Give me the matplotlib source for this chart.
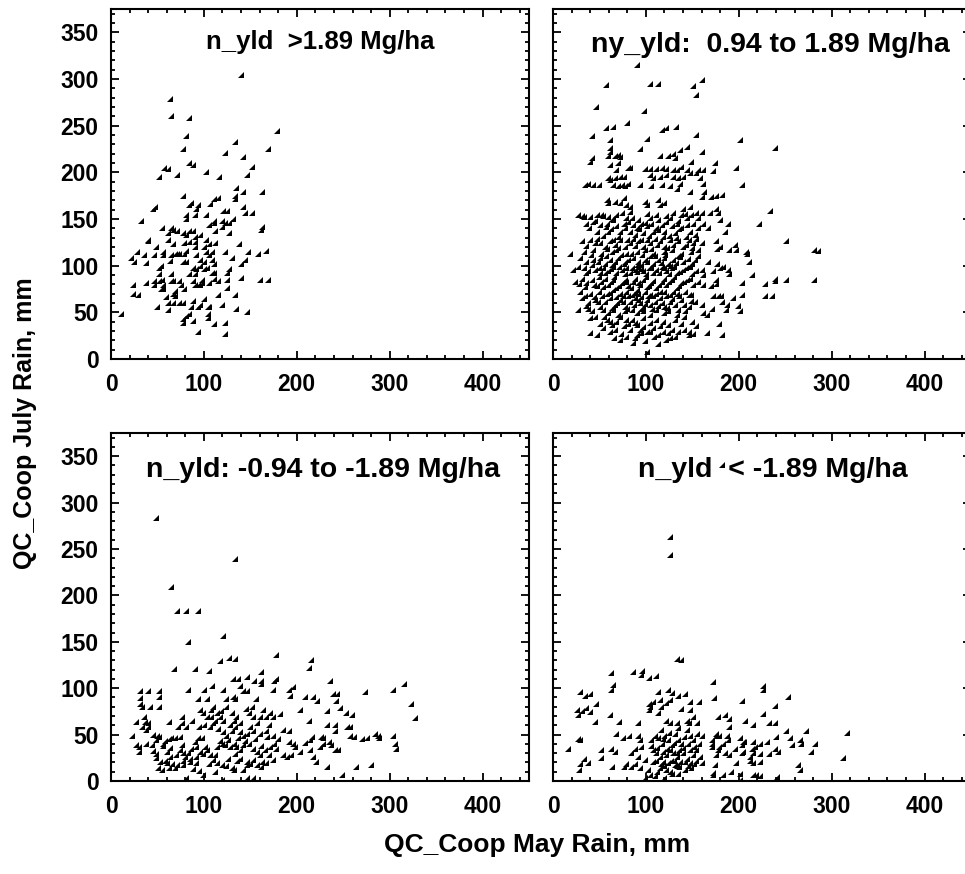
import matplotlib
matplotlib.use('Agg')
import matplotlib.pyplot as plt
from matplotlib.ticker import MultipleLocator

plt.rcParams['font.family'] = ['Liberation Sans', 'DejaVu Sans']
plt.rcParams['font.weight'] = 'bold'

# ---------------- data: (May rain, July rain) in mm ----------------
titles = ["n_yld  >1.89 Mg/ha", "ny_yld:  0.94 to 1.89 Mg/ha",
          "n_yld: -0.94 to -1.89 Mg/ha", "n_yld  < -1.89 Mg/ha"]
x_label = "QC_Coop May Rain, mm"
y_label = "QC_Coop July Rain, mm"
x_ticks = [0, 100, 200, 300, 400]
y_ticks = [0, 50, 100, 150, 200, 250, 300, 350]

pts_high = [(140,304),(63,279),(65,260),(84,258),(81,239),(179,244),(133,233),(77,225),(169,225),(123,221),(142,216),(84,210),(88,208),(57,205),(61,204),(152,206),(52,195),(71,197),(102,200),(116,195),(146,197),(135,183),(142,179),(163,179),(77,175),(133,175),(133,171),(115,172),(111,171),(107,166),(86,167),(84,165),(94,165),(92,161),(45,161),(47,163),(121,159),(125,159),(142,163),(144,156),(152,156),(81,154),(81,150),(90,154),(102,154),(32,148),(111,148),(119,148),(131,150),(127,146),(123,146),(106,144),(111,146),(55,140),(65,140),(67,138),(61,135),(71,137),(77,135),(84,137),(88,137),(81,133),(90,131),(96,133),(112,137),(119,141),(127,135),(161,138),(163,141),(40,127),(40,126),(61,127),(67,123),(84,125),(90,125),(79,124),(102,127),(106,123),(112,124),(138,123),(48,120),(90,120),(100,120),(28,115),(36,111),(46,111),(56,115),(56,111),(69,112),(71,112),(73,112),(79,112),(81,116),(65,111),(63,105),(102,115),(106,111),(109,115),(92,111),(123,115),(148,115),(158,112),(167,116),(21,108),(25,104),(38,103),(77,104),(81,104),(96,106),(96,100),(100,104),(109,106),(111,102),(130,108),(144,106),(140,102),(54,100),(52,98),(88,98),(92,96),(100,96),(103,98),(127,96),(125,92),(52,91),(84,91),(90,91),(109,92),(111,92),(65,91),(111,86),(140,87),(160,85),(169,85),(24,79),(24,70),(29,69),(38,81),(46,84),(46,79),(52,84),(55,85),(56,79),(56,75),(54,75),(65,84),(67,84),(73,84),(75,79),(69,73),(67,70),(69,67),(79,75),(88,84),(90,79),(94,79),(96,79),(98,85),(98,81),(106,81),(115,84),(125,85),(125,76),(59,66),(77,60),(73,60),(67,60),(61,60),(61,52),(50,56),(88,62),(86,56),(96,58),(94,56),(100,64),(104,56),(106,56),(115,69),(119,58),(133,69),(135,54),(146,50),(84,48),(81,46),(77,43),(77,39),(88,41),(104,48),(104,44),(111,37),(123,39),(94,29),(123,27),(11,48)]

pts_pos = [(90,315),(57,294),(104,295),(113,295),(151,292),(154,283),(46,270),(98,266),(80,253),(57,247),(65,249),(42,239),(61,235),(101,236),(117,245),(122,248),(132,249),(154,240),(61,226),(61,222),(94,225),(42,215),(40,211),(59,217),(67,217),(70,219),(72,216),(115,217),(124,217),(129,220),(137,224),(144,227),(131,215),(61,208),(70,210),(68,203),(81,205),(83,205),(99,204),(104,204),(111,204),(117,205),(122,204),(129,203),(133,203),(138,206),(144,203),(154,199),(149,211),(34,186),(38,188),(43,186),(50,186),(59,194),(61,192),(67,194),(72,195),(76,195),(65,186),(70,185),(74,186),(77,185),(81,188),(104,197),(108,194),(115,195),(122,197),(129,195),(135,194),(137,188),(140,195),(147,199),(94,186),(106,185),(117,186),(126,185),(133,182),(147,179),(58,170),(59,167),(67,168),(72,167),(76,172),(79,165),(83,163),(99,168),(101,165),(113,170),(115,165),(120,167),(140,161),(147,163),
(27,154),(31,153),(33,152),(40,152),(47,154),(52,154),(54,153),(59,152),(68,154),(74,156),(83,157),(85,151),(101,155),(104,151),(111,154),(122,153),(129,156),(138,154),(144,151),(149,154),(154,156),(156,151),
(36,145),(43,147),(51,144),(58,145),(65,149),(68,142),(76,145),(81,147),(86,144),(90,140),(95,145),(101,142),(106,145),(111,140),(117,144),(122,147),(128,142),(133,145),(138,140),(144,144),(151,145),(156,140),(47,136),(59,136),(72,136),(83,136),(97,135),(108,136),(120,136),(131,135),(147,136),
(31,126),(40,128),(47,129),(51,124),(56,120),(61,126),(67,122),(72,128),(77,120),(83,124),(86,129),(92,126),(97,120),(101,128),(104,124),(110,129),(115,126),(120,120),(126,128),(129,122),(135,126),(140,120),(146,128),(151,124),(154,129),(33,115),(43,117),(52,113),(63,115),(68,117),(79,113),(90,115),(99,117),(108,113),(119,115),(128,117),(138,113),(149,115),(156,117),(18,113),
(29,108),(36,104),(43,106),(51,108),(56,102),(61,106),(67,104),(70,108),(76,102),(81,106),(86,108),(92,104),(95,101),(99,106),(104,110),(108,102),(113,106),(119,108),(124,102),(129,106),(135,110),(140,104),(147,101),(153,106),(156,110),(22,95),(33,97),(38,94),(45,95),(51,92),(54,97),(59,94),(65,99),(68,92),(74,95),(79,97),(83,92),(88,95),(92,99),(97,94),(103,97),(108,92),(111,95),(117,99),(122,94),(128,97),(133,92),(140,95),(147,99),(154,94),
(24,83),(31,86),(36,81),(42,85),(47,78),(52,83),(56,86),(59,79),(65,85),(68,76),(74,81),(77,85),(81,78),(86,83),(90,74),(94,79),(97,85),(103,78),(106,81),(111,76),(117,83),(122,79),(128,85),(133,76),(138,81),(144,85),(151,79),(156,83),(29,72),(40,70),(49,72),(58,70),(65,74),(72,70),(79,72),(85,69),(92,70),(99,72),(104,69),(111,70),(119,72),(126,69),(133,70),(142,72),(149,69),
(31,65),(38,60),(45,63),(51,56),(56,61),(61,65),(67,58),(72,63),(77,56),(83,61),(88,65),(92,63),(94,60),(97,56),(101,63),(104,58),(110,61),(115,65),(120,56),(126,61),(131,58),(138,63),(146,56),(153,61),(27,52),(38,54),(59,49),(65,52),(70,47),(77,51),(85,52),(90,49),(97,51),(104,47),(111,52),(119,49),(124,51),(133,47),(142,51),
(40,44),(51,38),(58,42),(63,36),(68,40),(76,35),(81,38),(85,42),(90,36),(94,31),(101,29),(108,33),(115,35),(124,36),(128,31),(138,38),(146,29),(154,35),(40,28),(47,26),(61,29),(79,24),(90,26),(95,28),(104,29),(113,26),(124,28),(135,29),(146,26),(72,20),(88,22),(122,20),(131,24),(101,8),(86,17),
(160,299),(201,235),(239,226),(160,222),(174,210),(172,201),(197,205),(156,202),(161,203),(158,194),(161,188),(204,186),(163,179),(160,174),(170,174),(175,175),(182,176),(160,156),(169,156),(176,161),(178,156),(162,145),(167,140),(180,149),(188,145),(185,136),(234,159),(222,145),(160,124),(175,126),(177,118),(180,120),(190,117),(196,122),(197,117),(208,115),(209,112),(211,104),(251,126),(281,117),(285,116),(167,104),(177,102),(180,97),(183,99),(188,95),(190,91),(214,90),(160,95),(161,90),(172,94),(175,85),(162,79),(170,78),(176,80),(203,81),(228,80),(239,86),(239,84),(251,85),(281,85),(172,67),(178,67),(181,68),(194,65),(203,69),(228,67),(236,67),(182,61),(187,58),(186,53),(199,57),(201,51),(160,58),(162,49),(166,47),(171,54),(179,38),(166,28),(182,26),
(45,148),(57,141),(63,150),(79,151),(92,149),(99,146),(113,149),(126,151),(135,148),(142,155),
(39,140),(54,132),(62,139),(70,131),(78,140),(88,133),(93,139),(103,132),(113,138),(125,132),(136,139),(143,131),(153,133),
(35,121),(45,124),(58,118),(65,128),(70,119),(80,127),(88,121),(95,128),(106,118),(112,122),(118,131),(123,119),(132,130),(143,122),(150,119),
(41,111),(48,104),(57,110),(64,101),(73,111),(78,104),(84,112),(90,101),(96,111),(101,104),(110,110),(116,103),(121,111),(126,100),(132,103),(137,109),(145,107),(150,102),
(27,99),(36,92),(42,101),(49,98),(56,92),(62,96),(71,99),(77,91),(85,98),(90,93),(95,96),(100,91),(106,98),(114,92),(120,97),(125,91),(130,99),(137,93),(143,98),(150,91),
(28,80),(34,77),(44,79),(50,88),(54,77),(62,82),(66,88),(71,78),(79,82),(84,76),(88,86),(92,81),(100,88),(101,77),(108,84),(114,79),(120,86),(125,82),(130,88),(136,78),(141,82),(148,86),
(34,68),(44,66),(53,68),(61,71),(68,66),(75,68),(81,67),(88,71),(95,66),(102,67),(108,67),(115,72),(122,67),(129,72),(136,67),(146,69),
(35,57),(42,51),(48,61),(54,53),(63,55),(69,60),(75,61),(80,54),(87,58),(95,54),(99,59),(107,54),(113,57),(117,60),(123,55),(128,64),(135,53),(141,58),(149,62),
(45,45),(55,45),(61,40),(72,45),(79,42),(88,39),(97,44),(104,39),(111,42),(118,40),(131,42),(141,45),(150,40),
(54,33),(67,31),(73,27),(83,31),(97,34),(109,24),(118,29),(126,22),(141,31),(151,27),(66,22),(99,19),(113,16)]

pts_neg = [(48,283),(133,239),(65,209),(71,183),(81,183),(94,183),(83,150),(121,156),(117,129),(127,133),(133,131),(178,136),(68,121),(90,121),(106,119),(162,117),(131,110),(137,110),(146,112),(154,108),(162,108),(176,108),(178,110),(31,97),(40,97),(52,97),(31,89),(31,83),(33,80),(42,80),(52,80),(52,90),(83,98),(100,98),(109,102),(94,88),(103,88),(121,98),(124,88),(131,91),(133,88),(139,102),(142,97),(146,97),(156,88),(162,105),(174,98),
(27,64),(35,69),(37,64),(40,62),(38,55),(40,58),(23,48),(27,39),(30,37),(30,31),(38,40),(44,39),(49,48),(52,47),(48,44),(56,40),(56,38),(62,45),(65,46),(69,46),(74,47),(76,39),(74,33),(78,30),(83,30),(48,29),(48,25),(53,21),(60,31),(63,26),(60,19),(51,14),(55,12),(62,14),(69,14),(71,17),(78,17),(85,21),(92,19),(80,26),(85,24),(92,26),(76,69),(76,62),(81,58),(94,46),(95,58),
(96,76),(99,73),(103,69),(108,76),(110,80),(108,69),(112,65),(110,62),(107,58),(114,73),(117,69),(121,65),(124,80),(130,73),(132,65),(135,69),(139,62),(149,73),(152,80),(153,69),(157,62),(160,69),(164,76),(167,69),(171,73),(174,69),
(115,56),(121,53),(124,49),(130,54),(133,58),(139,53),(142,49),(146,51),(153,54),(160,51),(167,54),(174,49),(92,37),(96,31),(99,29),(103,33),(107,28),(114,37),(119,40),(123,39),(128,37),(132,40),(135,37),(139,33),(142,39),(149,40),(153,35),(157,31),(160,28),(166,33),(171,37),(176,40),(110,23),(114,19),(119,17),(124,16),(130,14),(139,24),(146,21),(153,23),(157,17),(162,15),(167,19),(174,23),(142,12),(146,17),(132,12),(119,1),(146,3),(153,3),(99,6),(81,3),
(215,130),(213,122),(196,101),(192,98),(193,92),(236,108),(209,90),(217,90),(222,86),(273,96),(239,94),(243,94),(242,86),(304,98),(315,104),(323,83),(327,68),(204,76),(232,75),(246,79),(253,73),(259,71),(213,65),(233,60),(241,60),(241,54),(254,58),(257,58),(257,48),(262,47),(270,45),(276,46),(284,51),(287,48),(289,46),(304,48),(306,40),(307,35),(185,55),(192,54),(192,42),(196,40),(198,37),(209,41),(214,44),(216,47),(226,47),(228,46),(225,37),(228,40),(235,42),(237,39),(241,33),(244,33),(185,28),(189,26),(194,28),(203,31),(214,33),(217,26),(221,21),(232,15),(249,6),(264,15),(280,17),
(33,58),(45,50),(58,43),(64,36),(70,28),(77,22),(86,35),(90,42),(98,46),(101,37),(105,18),(112,28),(117,43),(126,44),(134,29),(137,46),(144,43),(150,58),(155,45),(162,38),(168,47),(178,34),(58,22),(66,18),(88,13),(95,11),(112,10),(126,24),(136,22),(150,18),(163,20),(170,28),(180,45),(72,58),(87,65),(100,60),(118,75),(128,60),(145,78),(170,60),(182,72),(62,64),(45,32)]

pts_low = [(182,341),(126,263),(126,244),(134,131),(138,130),(62,116),(86,117),(96,118),(95,114),(103,111),(111,113),(65,103),(62,98),(29,96),(34,92),(40,94),(46,83),(26,77),(31,75),(35,79),(40,74),(27,71),(45,64),(61,71),(71,64),(92,63),(103,83),(103,76),(104,80),(108,85),(113,96),(115,87),(124,98),(128,95),(135,92),(142,94),(113,73),(116,80),(122,84),(126,87),(138,78),(147,85),(147,76),(157,85),(151,69),(122,65),(126,63),(133,63),(144,65),(146,62),(155,62),(27,45),(29,44),(16,35),(52,33),(62,35),(67,31),(68,51),(75,46),(82,48),(92,48),(94,44),(52,25),(63,15),(33,24),(29,18),(28,12),(38,19),(76,15),(79,18),(84,15),(88,18),(94,14),(84,30),(88,34),(91,26),(95,37),(99,23),
(106,44),(110,49),(113,46),(117,40),(120,48),(124,44),(128,39),(131,51),(135,44),(138,40),(144,55),(147,49),(151,44),(155,51),(160,48),(108,33),(111,30),(115,26),(118,31),(122,28),(126,33),(129,30),(133,26),(136,33),(140,30),(144,24),(147,33),(151,28),(154,33),(158,26),(111,22),(118,21),(124,19),(127,22),(131,17),(136,15),(142,21),(147,19),(154,22),(160,19),(102,12),(104,6),(110,5),(115,14),(120,16),(126,10),(133,16),(142,12),(149,14),(120,3),(99,3),
(172,107),(173,89),(226,102),(226,98),(253,91),(204,86),(239,81),(226,72),(178,69),(185,71),(190,67),(190,58),(207,65),(215,60),(233,62),(239,62),(251,54),(272,54),(317,52),(176,51),(179,49),(175,48),(171,44),(171,40),(171,37),(187,48),(188,44),(183,40),(179,37),(201,46),(205,42),(203,39),(206,42),(215,42),(217,37),(223,40),(230,42),(240,47),(242,31),(239,35),(233,29),(255,46),(257,39),(266,44),(267,40),(282,40),(278,31),(178,33),(185,30),(190,28),(176,28),(196,35),(203,30),(205,31),(214,35),(215,30),(212,26),(223,29),(223,21),(215,19),(212,22),(312,25),(174,17),(172,9),(172,6),(183,6),(192,10),(197,19),(201,8),(201,1),(215,6),(219,6),(223,5),(241,4),(264,17),(266,12),
(105,38),(112,36),(118,45),(123,35),(130,41),(134,30),(140,36),(145,40),(152,37),(157,40),(116,55),(125,52),(135,57),(141,47),(108,20),(116,18),(122,12),(130,22),(137,20),(145,16),(152,18),(128,8),(135,8),(112,10)]

panels = [pts_high, pts_pos, pts_neg, pts_low]

# ---------------- layout ----------------
W, H = 965, 874
fig = plt.figure(figsize=(W / 100, H / 100), dpi=100)

def px_axes(l, t, r, b):
    return fig.add_axes([l / W, 1 - b / H, (r - l) / W, (b - t) / H])

boxes = [(111, 9, 529, 359), (553, 9, 971, 359),
         (111, 433, 529, 781), (553, 433, 971, 781)]
title_pos = [(0.50, 0.906), (0.52, 0.897), (0.506, 0.894), (0.526, 0.894)]
title_size = [18.5, 20.5, 20.5, 20.5]
mark = [(-1, -1), (1, -1), (1, 1)]

for i, (box, pts, title) in enumerate(zip(boxes, panels, titles)):
    ax = px_axes(*box)
    xs = [p[0] for p in pts]
    ys = [p[1] for p in pts]
    ax.set_xlim(0, 450)
    ax.set_ylim(0, 375)
    ax.set_xticks(x_ticks)
    ax.set_yticks(y_ticks)
    ax.xaxis.set_minor_locator(MultipleLocator(20))
    ax.yaxis.set_minor_locator(MultipleLocator(10))
    ax.tick_params(which='both', direction='in', top=True, right=True, width=1.3)
    ax.tick_params(which='major', length=6)
    ax.tick_params(which='minor', length=3)
    ax.tick_params(axis='x', labelsize=16.5, pad=10)
    ax.tick_params(axis='y', labelsize=16.5, pad=9)
    for lab in ax.get_xticklabels() + ax.get_yticklabels():
        lab.set_fontweight('bold')
    if i % 2 == 1:
        ax.set_yticklabels([])
    for s in ax.spines.values():
        s.set_linewidth(1.5)
    ax.text(title_pos[i][0], title_pos[i][1], title, transform=ax.transAxes,
            ha='center', va='center', fontsize=title_size[i], fontweight='bold',
            zorder=1)
    ax.plot(xs, ys, ls='none', marker=mark, ms=4.2, color='black', mew=0,
            zorder=3)

fig.text(537 / W, 1 - 845 / H, x_label, ha='center', va='center',
         fontsize=19, fontweight='bold')
fig.text(25 / W, 1 - 423 / H, y_label, ha='center', va='center',
         rotation=90, fontsize=18, fontweight='bold')

fig.savefig('out.png', dpi=100)
